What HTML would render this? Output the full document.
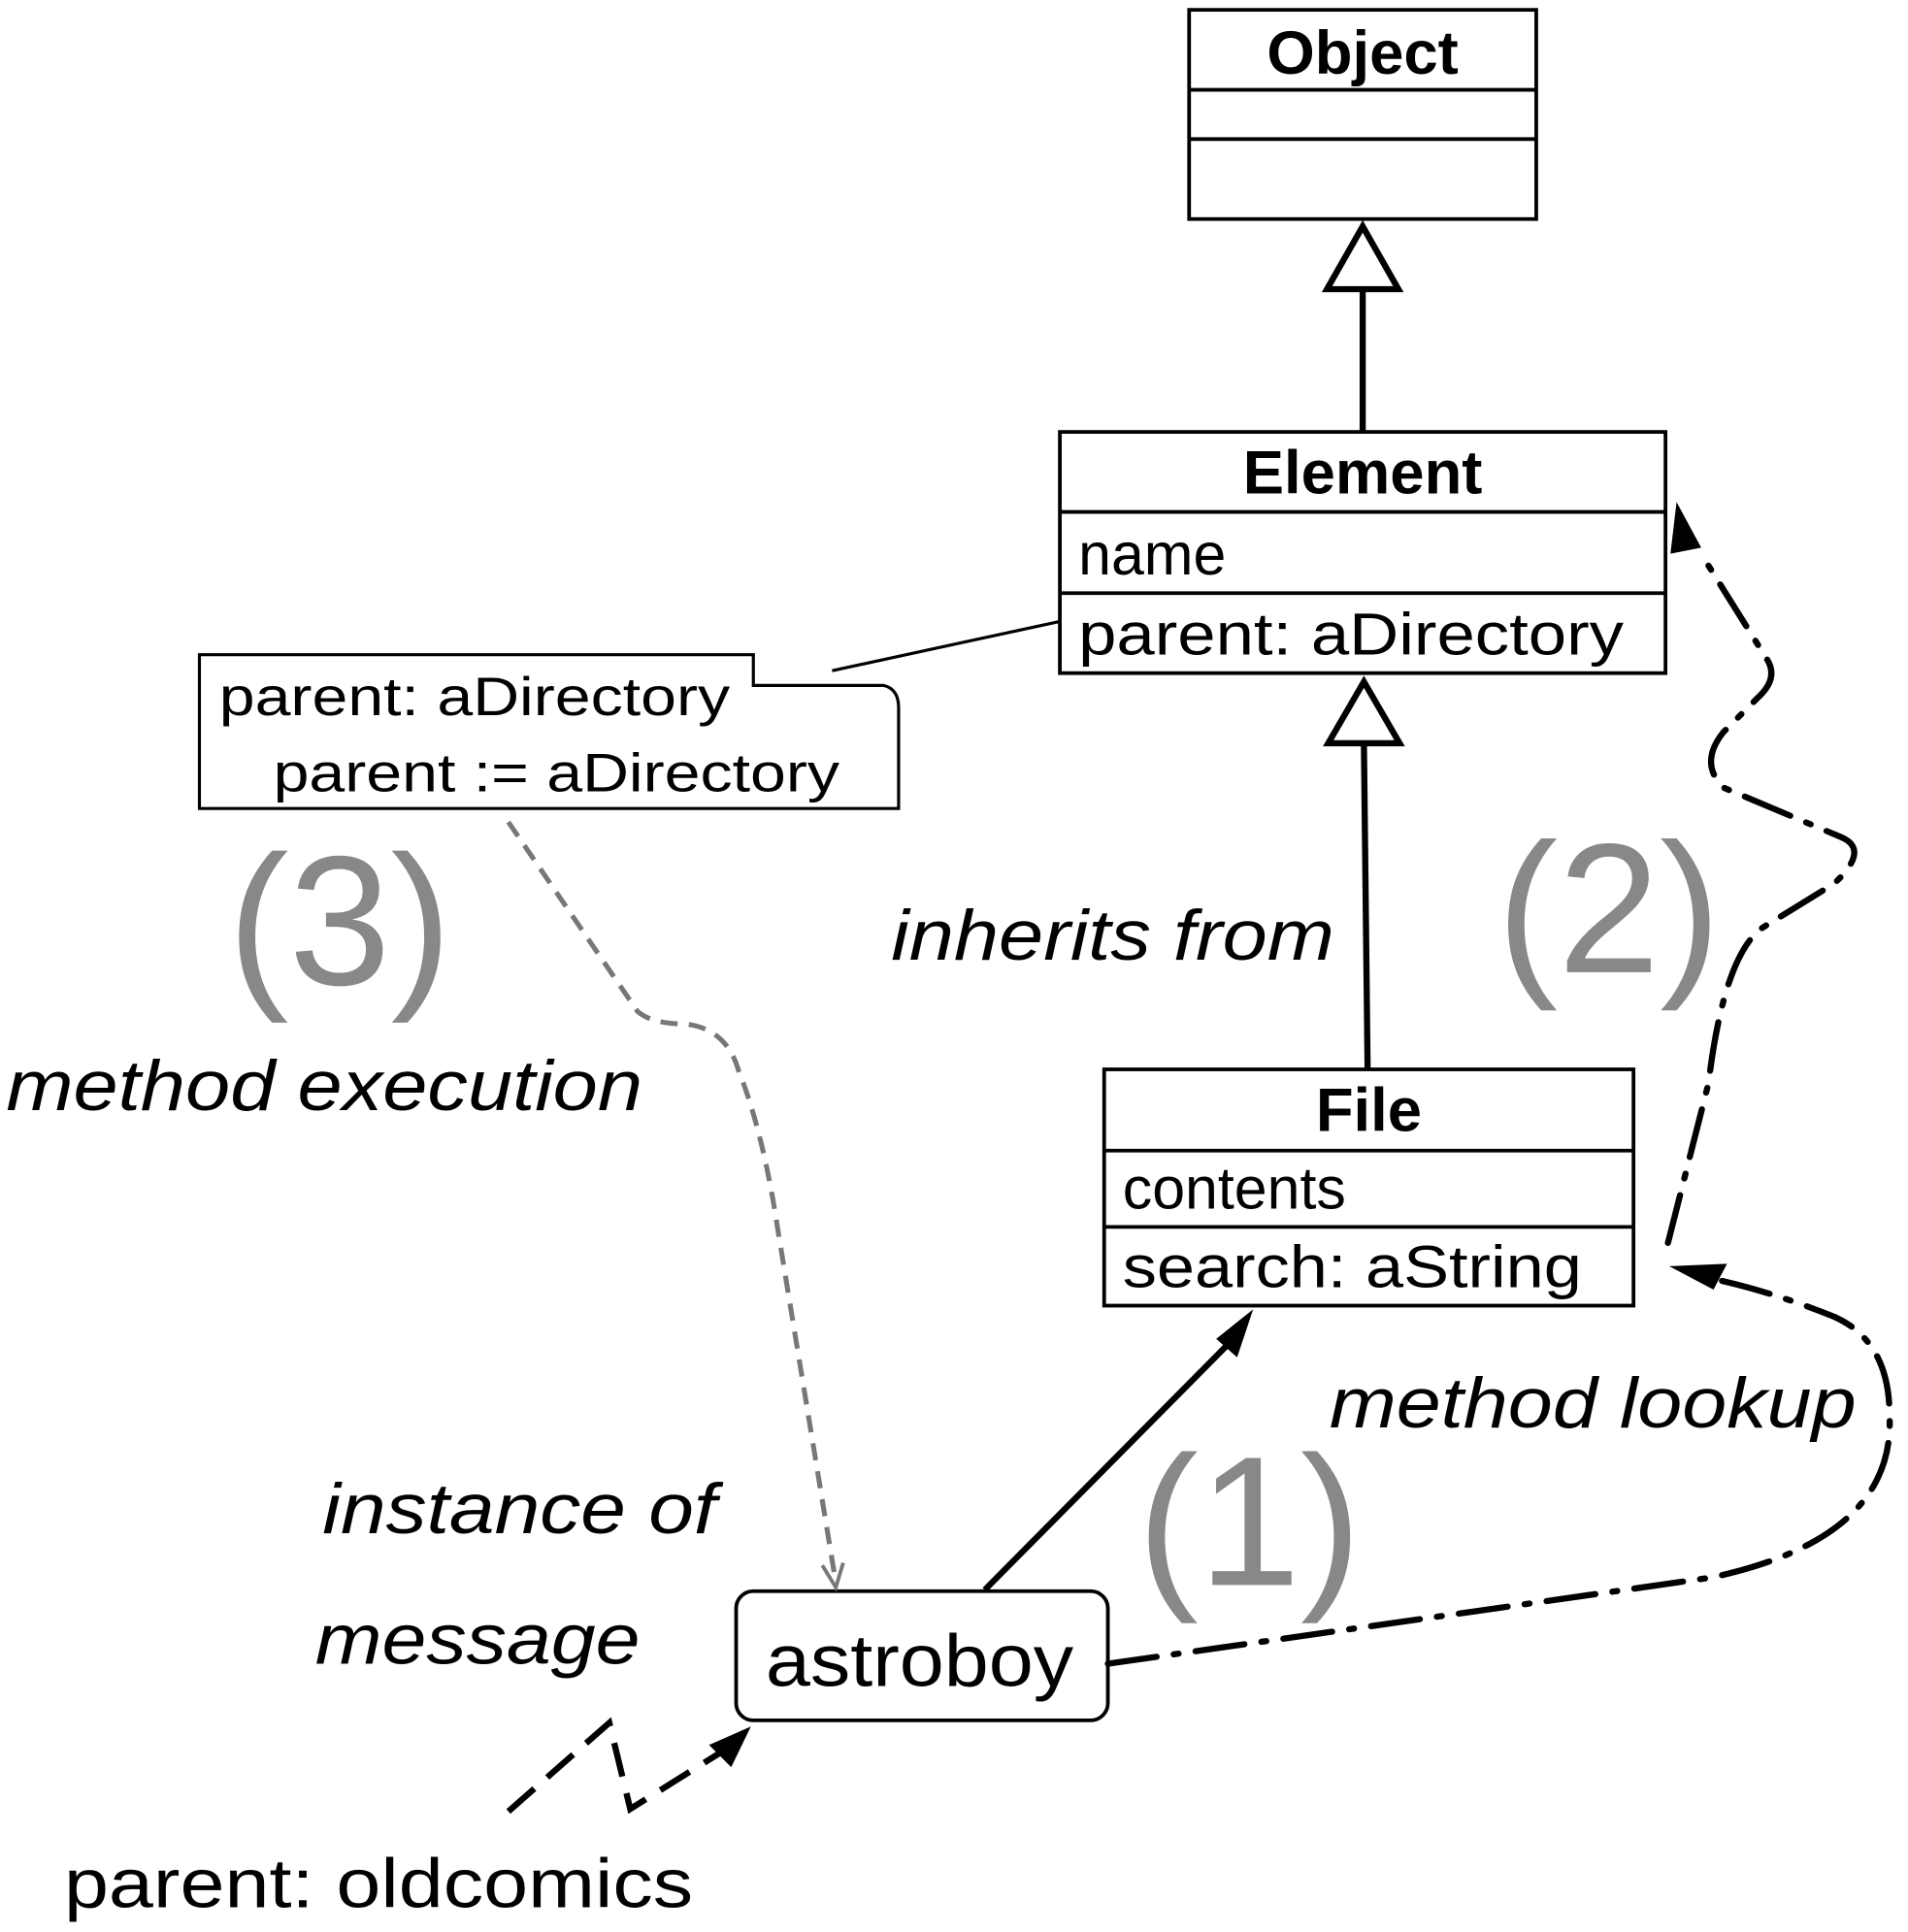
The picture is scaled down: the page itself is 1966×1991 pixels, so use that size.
<!DOCTYPE html>
<html><head><meta charset="utf-8"><style>html,body{margin:0;padding:0;background:#fff}svg{display:block}</style></head>
<body>
<svg width="1966" height="1991" viewBox="0 0 1550 1570" preserveAspectRatio="none" xmlns="http://www.w3.org/2000/svg" font-family="Liberation Sans, sans-serif">
<defs>
<marker id="fa" markerWidth="10" markerHeight="10" refX="9" refY="5" orient="auto" markerUnits="userSpaceOnUse" viewBox="0 0 10 10"></marker>
</defs>
<g fill="none" stroke="#000" stroke-width="3">
<rect x="966" y="8" width="282" height="170"/><line x1="966" y1="73" x2="1248" y2="73"/><line x1="966" y1="113" x2="1248" y2="113"/>
<rect x="861" y="351" width="492" height="196"/><line x1="861" y1="416" x2="1353" y2="416"/><line x1="861" y1="482" x2="1353" y2="482"/>
<rect x="897" y="869" width="430" height="192"/><line x1="897" y1="935" x2="1327" y2="935"/><line x1="897" y1="997" x2="1327" y2="997"/>
<rect x="598" y="1293" width="302" height="105" rx="14"/>
<polygon points="1107,184 1078,235 1136,235" stroke-width="5"/>
<line x1="1107" y1="235" x2="1107" y2="351" stroke-width="5"/>
<polygon points="1108,554 1079,604 1137,604" stroke-width="5"/>
<line x1="1108" y1="604" x2="1111" y2="869" stroke-width="5"/>
<path d="M162,532 H612 V557 H718 Q730,560 730,575 V657 H162 Z" stroke-width="2.5"/>
<line x1="676" y1="545" x2="861" y2="505" stroke-width="2.5"/>
<line x1="800" y1="1292" x2="1000" y2="1090" stroke-width="5"/>
<path d="M413,668 L518,822 Q530,832 555,832 Q590,835 600,870 Q620,920 632,1000 L678,1280" stroke="#777" stroke-width="4" stroke-dasharray="14,9"/>
<path d="M668,1272 L679,1290 L685,1270" stroke="#777" stroke-width="3"/>
<path d="M900,1352 L1390,1282 Q1540,1250 1535,1150 Q1535,1090 1490,1070 Q1440,1050 1395,1040" stroke-width="5" stroke-dasharray="40,14,4,14" stroke-linecap="round"/>
<path d="M1355,1010 L1388,880 Q1400,780 1430,755 L1490,718 Q1520,690 1495,680 L1400,640 Q1380,620 1400,595 L1430,565 Q1445,550 1435,535 L1385,455" stroke-width="5" stroke-dasharray="40,14,4,14" stroke-linecap="round"/>
<path d="M413,1472 L495,1400 L512,1470 L592,1420" stroke-width="5" stroke-dasharray="28,14"/>
</g>
<g fill="#000" stroke="none">
<polygon points="1018,1064 988,1088 1005,1103"/>
<polygon points="1356,1029 1403,1027 1392,1048"/>
<polygon points="1362,408 1357,450 1382,445"/>
<polygon points="610,1403 576,1418 594,1436"/>
</g>
<g font-size="50" font-weight="bold" text-anchor="middle">
<text x="1107" y="60">Object</text>
<text x="1107" y="401">Element</text>
<text x="1112" y="919">File</text>
</g>
<g font-size="48">
<text x="876" y="467">name</text>
<text x="876" y="532" textLength="443" lengthAdjust="spacingAndGlyphs">parent: aDirectory</text>
<text x="912" y="982">contents</text>
<text x="912" y="1046" textLength="373" lengthAdjust="spacingAndGlyphs">search: aString</text>
</g>
<g font-size="44">
<text x="178" y="581" textLength="415" lengthAdjust="spacingAndGlyphs">parent: aDirectory</text>
<text x="222" y="643" textLength="460" lengthAdjust="spacingAndGlyphs">parent := aDirectory</text>
</g>
<g font-size="150" fill="#888">
<text x="185" y="800" textLength="182" lengthAdjust="spacingAndGlyphs">(3)</text>
<text x="1216" y="790" textLength="182" lengthAdjust="spacingAndGlyphs">(2)</text>
<text x="924" y="1288" textLength="182" lengthAdjust="spacingAndGlyphs">(1)</text>
</g>
<g font-size="58" font-style="italic">
<text x="724" y="780" textLength="360" lengthAdjust="spacingAndGlyphs">inherits from</text>
<text x="5" y="902" textLength="517" lengthAdjust="spacingAndGlyphs">method execution</text>
<text x="1080" y="1160" textLength="428" lengthAdjust="spacingAndGlyphs">method lookup</text>
<text x="262" y="1246" textLength="320" lengthAdjust="spacingAndGlyphs">instance of</text>
<text x="256" y="1352" textLength="264" lengthAdjust="spacingAndGlyphs">message</text>
</g>
<text x="622" y="1370" font-size="60" textLength="250" lengthAdjust="spacingAndGlyphs">astroboy</text>
<text x="52" y="1550" font-size="56" textLength="511" lengthAdjust="spacingAndGlyphs">parent: oldcomics</text>
</svg>
</body></html>
